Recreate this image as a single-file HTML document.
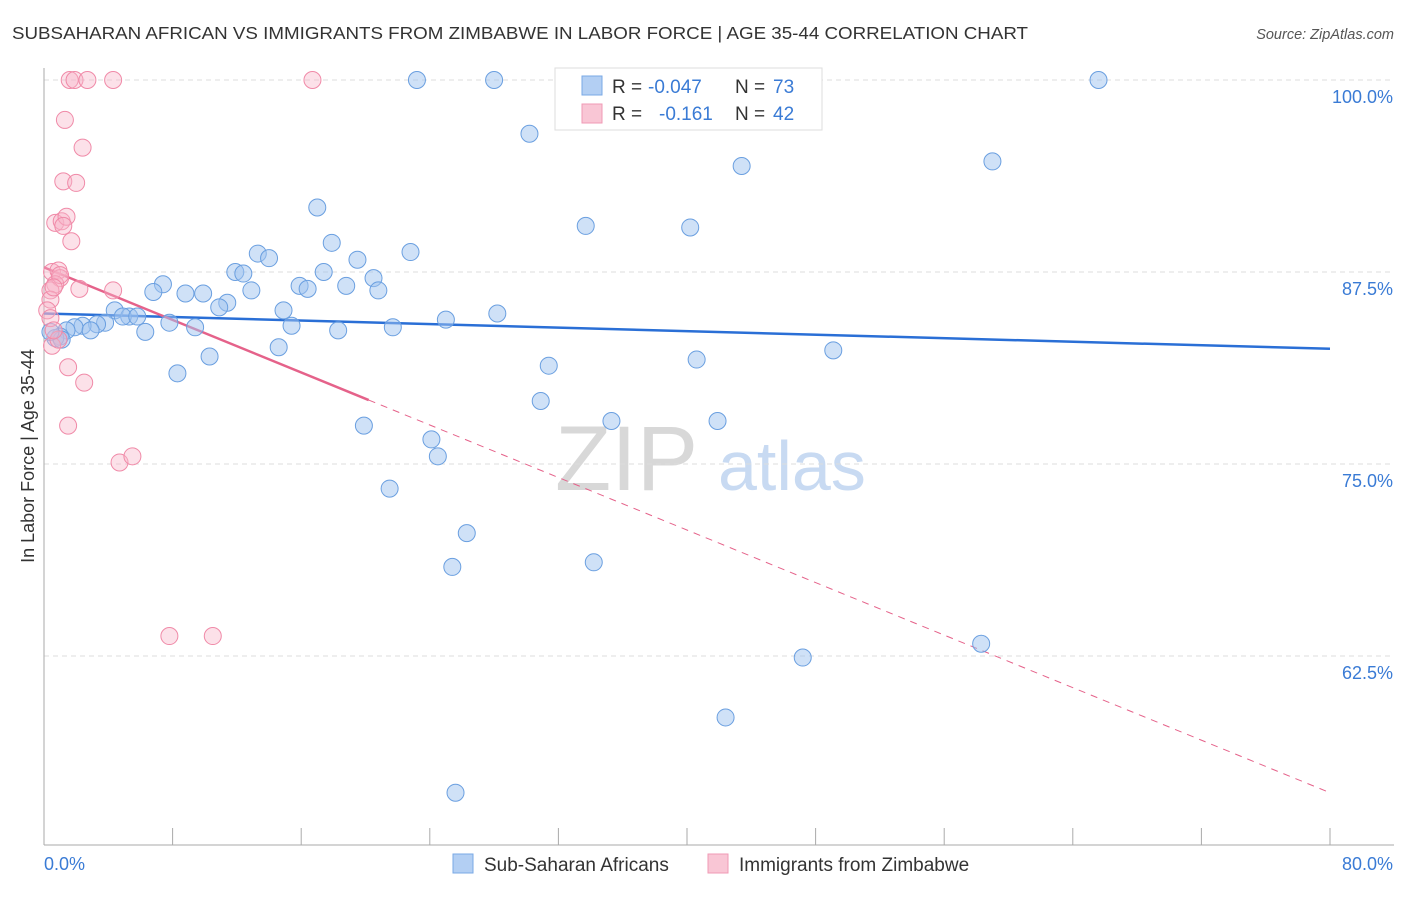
<!DOCTYPE html>
<html><head><meta charset="utf-8"><style>
body{margin:0;background:#fff;font-family:"Liberation Sans",sans-serif;}
svg text{font-family:"Liberation Sans",sans-serif;}
</style></head><body>
<svg id="chart" width="1406" height="892" xmlns="http://www.w3.org/2000/svg">
<text x="12" y="39" font-size="17.5" fill="#333" textLength="1016" lengthAdjust="spacingAndGlyphs">SUBSAHARAN AFRICAN VS IMMIGRANTS FROM ZIMBABWE IN LABOR FORCE | AGE 35-44 CORRELATION CHART</text>
<text x="1394" y="39" font-size="14.5" fill="#555" text-anchor="end" font-style="italic">Source: ZipAtlas.com</text>
<g><text x="555" y="490" font-size="92" fill="#d8d8d8" font-family="Liberation Serif">ZIP</text><text x="718" y="490" font-size="70" fill="#c8daf2">atlas</text></g>
<g id="grid"></g><g id="axes"></g><g id="trends"></g><g id="pts"></g>
<text transform="translate(34,456) rotate(-90)" font-size="18" fill="#333" text-anchor="middle">In Labor Force | Age 35-44</text>
<text x="44" y="870" font-size="18" fill="#3a7bd5">0.0%</text>
<text x="1393" y="870" font-size="18" fill="#3a7bd5" text-anchor="end">80.0%</text>
<g>
<rect x="555" y="68" width="267" height="62" fill="#fff" stroke="#ddd"/>
<rect x="582" y="76" width="20" height="19" fill="#b3cff3" stroke="#7aa8e6"/>
<rect x="582" y="104" width="20" height="19" fill="#f9c6d5" stroke="#f09ab5"/>
<text x="612" y="93" font-size="19" fill="#333">R =</text>
<text x="648" y="93" font-size="19" fill="#3a7bd5">-0.047</text>
<text x="735" y="93" font-size="19" fill="#333">N =</text>
<text x="773" y="93" font-size="19" fill="#3a7bd5">73</text>
<text x="612" y="120" font-size="19" fill="#333">R =</text>
<text x="659" y="120" font-size="19" fill="#3a7bd5">-0.161</text>
<text x="735" y="120" font-size="19" fill="#333">N =</text>
<text x="773" y="120" font-size="19" fill="#3a7bd5">42</text>
</g>
<g>
<rect x="453" y="854" width="20" height="19" fill="#b3cff3" stroke="#7aa8e6"/>
<text x="484" y="871" font-size="19" fill="#333">Sub-Saharan Africans</text>
<rect x="708" y="854" width="20" height="19" fill="#f9c6d5" stroke="#f09ab5"/>
<text x="739" y="871" font-size="19" fill="#333">Immigrants from Zimbabwe</text>
</g>
</svg>
<script>
const yTicks=[100,87.5,75,62.5];
const yTickLabels=["100.0%","87.5%","75.0%","62.5%"];
const xTicks=[0,8,16,24,32,40,48,56,64,72,80];
const blueX=[23.2,28.0,33.0,34.8,65.6,30.2,43.4,59.0,33.7,40.2,17.0,17.9,22.8,19.5,13.3,14.0,11.9,12.4,17.4,20.5,18.8,20.8,15.9,16.4,7.4,6.8,8.8,9.9,11.4,10.9,12.9,4.4,5.3,4.9,5.8,7.8,3.8,3.3,2.4,1.9,1.4,2.9,1.0,0.7,6.3,9.4,15.4,14.9,18.3,21.7,25.0,28.2,14.6,10.3,8.3,31.4,40.6,49.1,30.9,35.3,41.9,19.9,24.1,24.5,21.5,26.3,25.4,34.2,58.3,47.2,42.4,25.6,1.1,0.4];
const blueY=[100,100,100,100,100,96.5,94.4,94.7,90.5,90.4,91.7,89.4,88.8,88.3,88.7,88.4,87.5,87.4,87.5,87.1,86.6,86.3,86.6,86.4,86.7,86.2,86.1,86.1,85.5,85.2,86.3,85.0,84.6,84.6,84.6,84.2,84.2,84.1,84.0,83.9,83.7,83.7,83.3,83.2,83.6,83.9,84.0,85.0,83.7,83.9,84.4,84.8,82.6,82.0,80.9,81.4,81.8,82.4,79.1,77.8,77.8,77.5,76.6,75.5,73.4,70.5,68.3,68.6,63.3,62.4,58.5,53.6,83.1,83.6];
const pinkX=[1.6,1.9,2.7,4.3,16.7,1.3,2.4,1.2,2.0,0.7,1.1,1.4,1.2,1.7,0.5,0.9,1.0,0.7,0.4,2.2,4.3,0.4,0.2,0.4,0.5,1.5,2.5,1.5,4.7,5.5,7.8,10.5,0.9,0.6,1.0,0.6];
const pinkY=[100,100,100,100,100,97.4,95.6,93.4,93.3,90.7,90.8,91.1,90.5,89.5,87.5,87.6,87.1,86.7,86.3,86.4,86.3,85.7,85.0,84.5,82.7,81.3,80.3,77.5,75.1,75.5,63.8,63.8,83.1,83.7,87.3,86.5];
const blueTrend=[84.8,82.5];   // y at x=0, x=80
const pinkTrend=[87.8,53.6];
const pinkSolidEnd=20.2;
const NS="http://www.w3.org/2000/svg";
const X=v=>44+v/80*1286, Y=v=>80+(100-v)*15.36;
function mk(tag,attrs,parent){const e=document.createElementNS(NS,tag);for(const k in attrs)e.setAttribute(k,attrs[k]);document.getElementById(parent).appendChild(e);return e;}
yTicks.forEach((t,i)=>{
 const l=mk('line',{x1:44,x2:1394,y1:Y(t),y2:Y(t),stroke:'#ddd','stroke-dasharray':'5,4'},'grid');
 
 
 const tx=mk('text',{x:1393,y:Y(t)+23,'font-size':18,fill:'#3a7bd5','text-anchor':'end'},'grid');
 tx.textContent=yTickLabels[i];
 
 
});
const ya=mk('line',{x1:44,x2:44,y1:68,y2:845,stroke:'#aaa'},'axes');


const xa=mk('line',{x1:44,x2:1394,y1:845,y2:845,stroke:'#aaa'},'axes');


xTicks.forEach(t=>{const l=mk('line',{x1:X(t),x2:X(t),y1:828,y2:845,stroke:'#aaa'},'axes');
 
 });
const ty=(tr,x)=>tr[0]+(tr[1]-tr[0])*x/80;
const bt=mk('line',{x1:X(0),y1:Y(blueTrend[0]),x2:X(80),y2:Y(blueTrend[1]),stroke:'#2a6fd6','stroke-width':2.5},'trends');


const ps=mk('line',{x1:X(0),y1:Y(pinkTrend[0]),x2:X(pinkSolidEnd),y2:Y(ty(pinkTrend,pinkSolidEnd)),stroke:'#e5628a','stroke-width':2.5},'trends');


const pd=mk('line',{x1:X(pinkSolidEnd),y1:Y(ty(pinkTrend,pinkSolidEnd)),x2:X(80),y2:Y(pinkTrend[1]),stroke:'#e5628a','stroke-width':1,'stroke-dasharray':'7,6'},'trends');


blueX.forEach((x,i)=>{const c=mk('circle',{cx:X(x),cy:Y(blueY[i]),r:8.5,fill:'rgba(160,196,240,0.5)',stroke:'#6a9fe0','stroke-width':1},'pts');
 
 });
pinkX.forEach((x,i)=>{const c=mk('circle',{cx:X(x),cy:Y(pinkY[i]),r:8.5,fill:'rgba(248,180,200,0.4)',stroke:'#f08aa8','stroke-width':1},'pts');
 
 });
</script>
</body></html>
